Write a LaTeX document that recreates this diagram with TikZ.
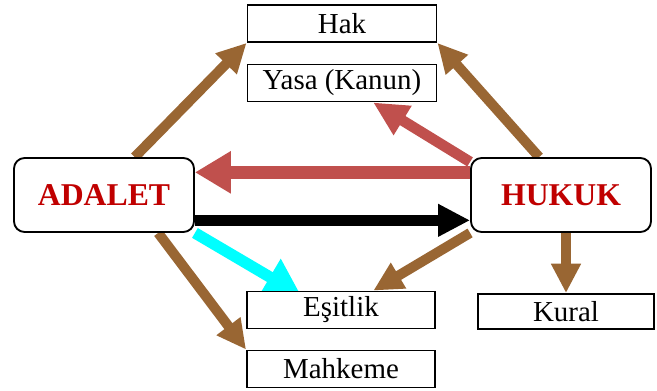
\documentclass[tikz,border=0pt]{standalone}
\usepackage{fontspec}
\setmainfont{Liberation Serif}
\usetikzlibrary{arrows.meta}
\usetikzlibrary{calc}
\usetikzlibrary{backgrounds}
\definecolor{kahve}{HTML}{996633}
\definecolor{kiremit}{HTML}{C0504D}
\definecolor{koyukirmizi}{HTML}{C00000}
\definecolor{camgobegi}{RGB}{0,255,255}

\begin{document}
\begin{tikzpicture}[x=0.75pt,y=-0.75pt,
        kutu/.style={draw,line width=1.4pt,fill=white,inner sep=0pt,minimum width=141.75pt,minimum height=27.75pt,font=\fontsize{21.7}{26}\selectfont},
        ana/.style={draw,line width=1.4pt,fill=white,rounded corners=8pt,inner sep=0pt,minimum width=135pt,minimum height=55.5pt,text=koyukirmizi,font=\fontsize{23.8}{28}\selectfont\bfseries},
        okkahve/.style={kahve,line width=7.5pt,-{Triangle[length=22pt,width=21pt]}},
        okkirmizi/.style={kiremit,line width=8pt,-{Triangle[length=26pt,width=24pt]}},
        okgenis/.style={line width=9.5pt,-{Triangle[length=27pt,width=30pt]}},
        oksiyah/.style={black,line width=8.25pt,-{Triangle[length=24pt,width=23pt]}}]
                \useasboundingbox (0,0) rectangle (657,390);
                \node[ana] (adalet) at (104,195) {ADALET};
                \node[ana] (hukuk) at (561,195) {HUKUK};
                \node[kutu] (hak) at (342,23.5) {Hak};
                \node[kutu] (yasa) at (342,83) {Yasa (Kanun)};
                \node[kutu,minimum width=141pt] (esitlik) at (341,310) {Eşitlik};
                \node[kutu,minimum width=141pt] (mahkeme) at (341,369) {Mahkeme};
                \node[kutu,minimum width=132pt,minimum height=26.25pt] (kural) at (566,311.5) {Kural};
                \begin{scope}[on background layer]
                \draw[okkahve] (adalet.51) -- (hak.south west);
                \draw[okkahve] (hukuk.120) -- (hak.south east);
                \draw[okkirmizi] (hukuk.160) -- (yasa.-32);
                \draw[okgenis,kiremit] ([yshift=17pt]hukuk.west) -- ([yshift=17pt]adalet.east);
                \draw[oksiyah] ([yshift=-19pt]adalet.east) -- ([yshift=-19pt]hukuk.west);
                \draw[okgenis,camgobegi,line width=8.5pt,shorten >=-7pt] (adalet.south east) -- (esitlik.158);
                \draw[okkahve] (hukuk.south west) -- (esitlik.31);
                \draw[okkahve] (adalet.-35) -- (mahkeme.north west);
                \draw[okkahve] (hukuk.south -| kural.north) -- (kural.north);
                \end{scope}
            \end{tikzpicture}
\end{document}
